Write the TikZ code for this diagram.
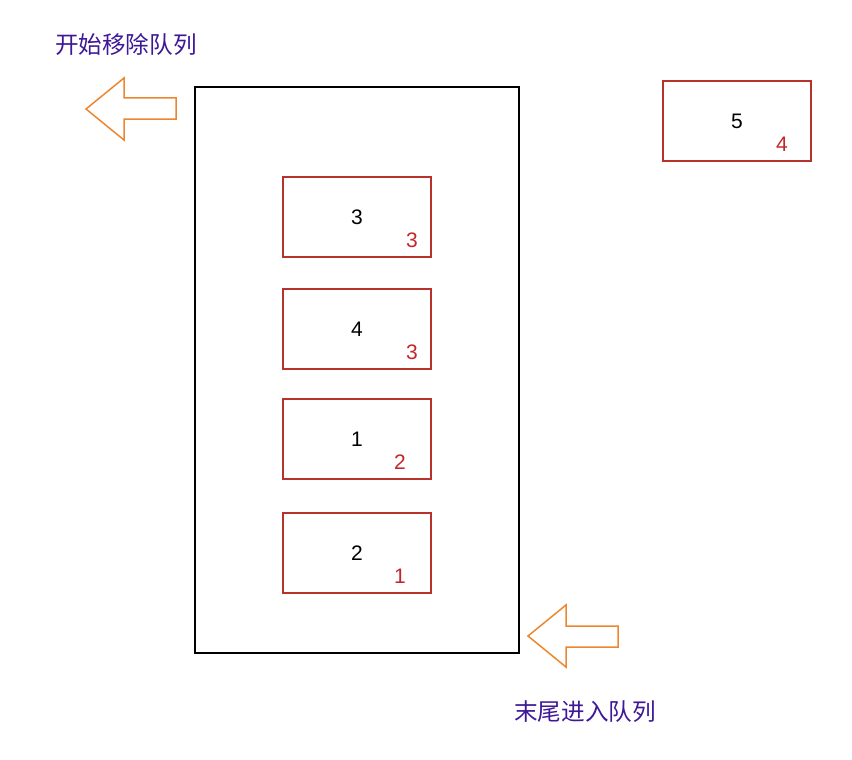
\documentclass[tikz,border=0pt]{standalone}
\usepackage{fontspec}
\setmainfont{Liberation Sans}
\newfontfamily\cjk{Noto Sans CJK SC}
\usetikzlibrary{positioning}
\definecolor{boxred}{RGB}{184,50,45}
\definecolor{numred}{RGB}{196,38,40}
\definecolor{arroworange}{RGB}{236,135,48}
\definecolor{textpurple}{RGB}{62,24,150}

\begin{document}
\begin{tikzpicture}[x=1pt,y=-1pt,
    item/.style={rectangle, draw=boxred, line width=1.5pt, minimum width=148pt, minimum height=80pt, inner sep=0pt, font=\fontsize{21}{21}\selectfont},
    count/.style={text=numred, inner sep=0pt, font=\fontsize{21}{21}\selectfont},
    hollow/.style={draw=arroworange, line width=1.5pt, line join=miter},
    caption/.style={text=textpurple, inner sep=0pt, anchor=west, font=\cjk\fontsize{23.6}{23.6}\selectfont}]
    \useasboundingbox (0,0) rectangle (852,760);
    % queue
    \draw[line width=1.7pt] (195,87) rectangle (519,653);
    \node[item] (b3) at (357,217) {3};
    \node[item] (b4) at (357,329) {4};
    \node[item] (b1) at (357,439) {1};
    \node[item] (b2) at (357,553) {2};
    \node[item] (b5) at (737,121) {5};
    % priorities
    \node[count] (p3) at (412,240) {3};
    \node[count] (p4) at (412,352) {3};
    \node[count] (p1) at (400,462) {2};
    \node[count] (p2) at (400,576) {1};
    \node[count] (p5) at (782,144) {4};
    % arrows
    \draw[hollow] (86,109) -- (124,78) -- (124,98) -- (176,98) -- (176,119) -- (124,119) -- (124,140) -- cycle;
    \draw[hollow] (528,636) -- (566,605) -- (566,626) -- (618,626) -- (618,647) -- (566,647) -- (566,667) -- cycle;
    \node[caption] (out) at (55,45) {开始移除队列};
    \node[caption] (in) at (514,712) {末尾进入队列};
\end{tikzpicture}
\end{document}
